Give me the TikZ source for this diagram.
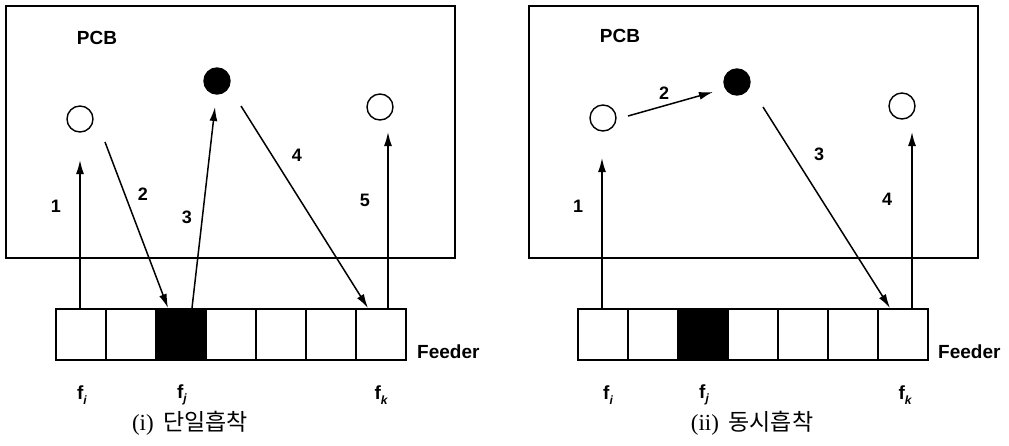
\documentclass[tikz,border=0pt]{standalone}
\usepackage{fontspec}
\setmainfont{Liberation Serif}
\setsansfont{Liberation Sans}
\newfontfamily\kofont{Noto Sans CJK KR}
\usetikzlibrary{arrows.meta}
\tikzset{
  pcb/.style={draw, line width=1.7pt},
  cell/.style={draw, line width=1.7pt, minimum width=50pt, minimum height=51pt, inner sep=0pt, anchor=north west},
  blackcell/.style={cell, fill=black},
  hole/.style={circle, draw, line width=1.4pt, minimum size=26pt, inner sep=0pt},
  fullhole/.style={hole, fill=black},
  mv/.style={line width=1.5pt, -{Latex[length=14pt,width=8pt]}},
  num/.style={font=\sffamily\bfseries\fontsize{18}{18}\selectfont, inner sep=0pt},
  lbl/.style={font=\sffamily\bfseries\fontsize{19}{19}\selectfont, inner sep=0pt},
  flbl/.style={font=\sffamily\bfseries\fontsize{19}{19}\selectfont, inner sep=0pt},
  captxt/.style={font=\fontsize{23}{23}\selectfont, inner sep=0pt}
}
\newcommand{\fsub}[1]{f\raisebox{-0.45ex}{\fontsize{12}{12}\selectfont\itshape #1}}
\begin{document}
\begin{tikzpicture}[x=1pt,y=-1pt]
\useasboundingbox (0,0) rectangle (1009,445);
% ---------- left panel ----------
\node[pcb, minimum width=449pt, minimum height=252pt, anchor=north west, inner sep=0pt] (pcbL) at (5,5) {};
\node[lbl] (pcbLt) at (97,38) {PCB};
\foreach \i in {0,...,6} {
  \ifnum\i=2
    \node[blackcell] (L\i) at ({55+50*\i},308) {};
  \else
    \node[cell] (L\i) at ({55+50*\i},308) {};
  \fi
}
\node[lbl, anchor=west] (feedL) at (417,352) {Feeder};
\node[hole] (LA) at (80,119) {};
\node[fullhole] (LB) at (217,81) {};
\node[hole] (LC) at (380,107) {};
\coordinate (L1s) at (80,308);   \coordinate (L1e) at (80,160);
\coordinate (L2s) at (105,142);  \coordinate (L2e) at (168,308);
\coordinate (L3s) at (192,308);  \coordinate (L3e) at (215,107);
\coordinate (L4s) at (241,106);  \coordinate (L4e) at (368,308);
\coordinate (L5s) at (388,308);  \coordinate (L5e) at (388,132);
\draw[mv] (L1s) -- (L1e);
\draw[mv] (L2s) -- (L2e);
\draw[mv] (L3s) -- (L3e);
\draw[mv] (L4s) -- (L4e);
\draw[mv] (L5s) -- (L5e);
\node[num] (n1L) at (56,206) {1};
\node[num] (n2L) at (143,194) {2};
\node[num] (n3L) at (187,217) {3};
\node[num] (n4L) at (297,155) {4};
\node[num] (n5L) at (365,200) {5};
\node[flbl] (fiL) at (82,395) {\fsub{i}};
\node[flbl] (fjL) at (182,395) {\fsub{j}};
\node[flbl] (fkL) at (381,395) {\fsub{k}};
\node[captxt] (capL) at (190,423) {(i)\, {\kofont 단일흡착}};
% ---------- right panel ----------
\node[pcb, minimum width=449pt, minimum height=252pt, anchor=north west, inner sep=0pt] (pcbR) at (528,5) {};
\node[lbl] (pcbRt) at (620,36) {PCB};
\foreach \i in {0,...,6} {
  \ifnum\i=2
    \node[blackcell] (R\i) at ({577+50*\i},308) {};
  \else
    \node[cell] (R\i) at ({577+50*\i},308) {};
  \fi
}
\node[lbl, anchor=west] (feedR) at (938,352) {Feeder};
\node[hole] (RA) at (603,118) {};
\node[fullhole] (RB) at (737,82) {};
\node[hole] (RC) at (902,106) {};
\coordinate (R1s) at (602,308);  \coordinate (R1e) at (602,158);
\coordinate (R2s) at (628,116);  \coordinate (R2e) at (713,92);
\coordinate (R3s) at (763,107);  \coordinate (R3e) at (890,308);
\coordinate (R4s) at (912,308);  \coordinate (R4e) at (912,132);
\draw[mv] (R1s) -- (R1e);
\draw[mv] (R2s) -- (R2e);
\draw[mv] (R3s) -- (R3e);
\draw[mv] (R4s) -- (R4e);
\node[num] (n1R) at (578,206) {1};
\node[num] (n2R) at (664,93) {2};
\node[num] (n3R) at (819,154) {3};
\node[num] (n4R) at (887,199) {4};
\node[flbl] (fiR) at (608,395) {\fsub{i}};
\node[flbl] (fjR) at (704,395) {\fsub{j}};
\node[flbl] (fkR) at (905,395) {\fsub{k}};
\node[captxt] (capR) at (752,423) {(ii)\, {\kofont 동시흡착}};
\end{tikzpicture}
\end{document}
